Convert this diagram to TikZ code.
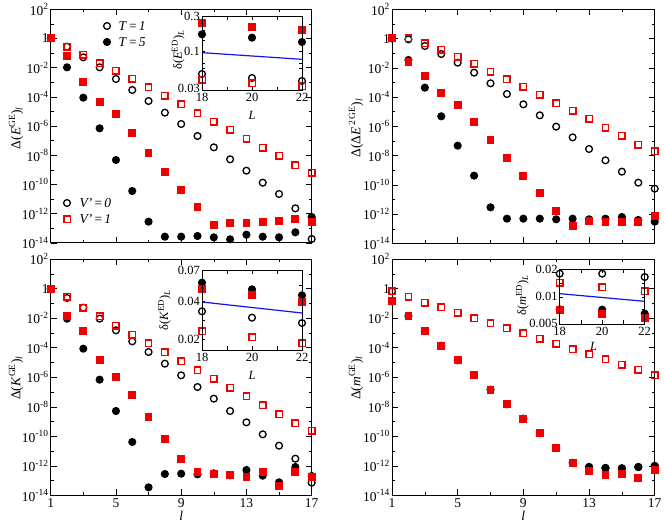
\documentclass[tikz,border=0pt]{standalone}
\usepackage{fontspec}
\setmainfont{Liberation Serif}
\definecolor{myred}{RGB}{240,0,0}
\definecolor{myblue}{RGB}{20,20,230}
\tikzset{
 oc/.style={draw=black,line width=1.3pt,circle,inner sep=0pt,minimum size=6.8pt},
 fc/.style={fill=black,circle,inner sep=0pt,minimum size=8.2pt},
 os/.style={draw=myred,line width=1.4pt,rectangle,inner sep=0pt,minimum size=6.4pt},
 fs/.style={fill=myred,rectangle,inner sep=0pt,minimum size=7.8pt},
 frm/.style={line width=0.9pt},
 tk/.style={line width=0.6pt},
 tl/.style={font=\fontsize{13.5}{13.5}\selectfont},
 il/.style={font=\fontsize{12.5}{12.5}\selectfont},
}
\newcommand\OC[1]{\foreach \a/\b in {#1} \path (\a,\b) node[oc]{};}
\newcommand\FC[1]{\foreach \a/\b in {#1} \path (\a,\b) node[fc]{};}
\newcommand\OS[1]{\foreach \a/\b in {#1} \path (\a,\b) node[os]{};}
\newcommand\FS[1]{\foreach \a/\b in {#1} \path (\a,\b) node[fs]{};}
\newcommand\mainaxes[3]{%
 \pgfmathsetmacro\yb{#1+16*#2}
 \foreach \e in {2,1,...,-14}{%
  \pgfmathsetmacro\yy{#1+(2-\e)*#2}
  \pgfmathsetmacro\tlen{mod(abs(\e),2)==0?6:3}
  \draw[tk] (1,\yy) -- ++(\tlen pt,0);
  \draw[tk] (17,\yy) -- ++(-\tlen pt,0);}
 \foreach \e in {2,0,...,-14}{%
  \pgfmathsetmacro\yy{#1+(2-\e)*#2}
  \node[tl,anchor=east,inner sep=2pt] at (1,\yy) {\ifnum\e=0 1\else 10\textsuperscript{\e}\fi};}
 \foreach \x/\tlen in {3/3,5/6,7/3,9/6,11/3,13/6,15/3}{%
  \draw[tk] (\x,\yb) -- ++(0,\tlen pt);
  \draw[tk] (\x,#1) -- ++(0,-\tlen pt);}
 \ifnum#3=1
  \foreach \x in {1,5,9,13,17} \node[tl,anchor=north,inner sep=3pt] at (\x,\yb) {\x};
  \node[tl,anchor=north] at (9,\yb+36) {\textit{l}};
 \fi
 \draw[frm] (1,#1) rectangle (17,\yb);
}
\begin{document}
\begin{tikzpicture}[x=1pt,y=1pt]
\useasboundingbox[fill=white] (0,0) rectangle (664,-524);
% ---------- TL
\begin{scope}[shift={(34.39pt,0pt)},x=16.31pt,y=-0.33333pt]
\mainaxes{28}{43.8}{0}
\OC{2/140,3/172,4/202,5/237,6/270,7/303,8/338,9/372,10/408,11/442,12/478,13/512,14/548,15/582,16/625,17/717}
\FC{1/115,2/202,3/293,4/385,5/480,6/573,7/665,8/710,9/710,10/708,11/712,12/718,13/704,14/710,15/712,16/697,17/651}
\OS{1/115,2/140,3/165,4/190,5/213,6/237,7/262,8/288,9/313,10/340,11/365,12/390,13/417,14/443,15/468,16/496,17/518}
\FS{1/115,2/167,3/245,4/305,5/343,6/400,7/458,8/515,9/570,10/622,11/675,12/668,13/668,14/665,15/663,16/658,17/665}
\end{scope}
\node[tl,rotate=90] (yl1) at (16,-128) {Δ(\textit{E}\textsuperscript{GE})\textsubscript{\textit{l}}};
\node[oc] (lg1) at (107,-26) {}; \node[tl,anchor=west] at (115,-26) {\textit{T}\,=\,\textit{1}};
\node[fc] (lg2) at (107,-42) {}; \node[tl,anchor=west] at (115,-42) {\textit{T}\,=\,\textit{5}};
\node[oc] (lg3) at (67,-203) {}; \node[tl,anchor=west] at (76,-203) {\textit{V'}\,=\,\textit{0}};
\node[os] (lg4) at (67,-219) {}; \node[tl,anchor=west] at (76,-219) {\textit{V'}\,=\,\textit{1}};
% inset TL
\begin{scope}[shift={(-248pt,0pt)},x=25pt,y=-0.33333pt]
\fill[white] (18,48) rectangle (22,272);
\foreach \x in {19,20,21}{\draw[tk] (\x,272) -- ++(0,4pt); \draw[tk] (\x,48) -- ++(0,-4pt);}
\foreach \yy in {155,90,121,206,189}{\draw[tk] (18,\yy) -- ++(3pt,0); \draw[tk] (22,\yy) -- ++(-3pt,0);}
\draw[myblue,line width=1.2pt] (18,158) -- (22,178);
\FC{18/103,20/113,22/126}\OC{18/222,20/234,22/243}
\FS{18/70,20/82,22/90}\OS{18/240,20/250,22/259}
\draw[frm] (18,48) rectangle (22,272);
\foreach \v/\yy in {0.3/48,0.1/155,0.03/266} \node[il,anchor=east,inner sep=2pt] at (18,\yy) {\v};
\foreach \x in {18,20,22} \node[il,anchor=north,inner sep=2pt] at (\x,274) {\x};
\node[il] at (20,345) {\textit{L}};
\node[il,rotate=90] at (17.05,150) {δ(\textit{E}\textsuperscript{ED})\textsubscript{\textit{L}}};
\end{scope}
% ---------- TR
\begin{scope}[shift={(375.58pt,0pt)},x=16.42pt,y=-0.33333pt]
\mainaxes{28}{43.9}{0}
\OC{1/115,2/118,3/138,4/162,5/188,6/218,7/250,8/282,9/313,10/346,11/380,12/412,13/447,14/481,15/515,16/548,17/566}
\FC{1/115,2/180,3/263,4/349,5/437,6/527,7/622,8/656,9/656,10/656,11/658,12/656,13/658,14/656,15/651,16/660,17/665}
\OS{1/115,2/115,3/130,4/150,5/170,6/192,7/215,8/238,9/261,10/285,11/310,12/333,13/357,14/383,15/408,16/434,17/454}
\FS{1/115,2/187,3/229,4/280,5/314,6/367,7/420,8/474,9/527,10/580,11/632,12/678,13/662,14/667,15/667,16/666,17/648}
\end{scope}
\node[tl,rotate=90] (yl2) at (356,-128) {Δ(Δ\textit{E}\textsuperscript{\,2\,GE})\textsubscript{\textit{l}}};
% ---------- BL
\begin{scope}[shift={(34.39pt,-262pt)},x=16.31pt,y=-0.33333pt]
\mainaxes{-8.6}{44.3}{1}
\OC{2/108,3/137,4/170,5/205,6/238,7/270,8/305,9/340,10/375,11/410,12/447,13/481,14/517,15/551,16/590,17/662}
\FC{1/80,2/170,3/260,4/353,5/447,6/540,7/676,8/636,9/635,10/637,11/634,12/640,13/624,14/641,15/661,16/615,17/642}
\OS{1/80,2/104,3/137,4/163,5/191,6/218,7/244,8/270,9/297,10/324,11/350,12/377,13/403,14/430,15/456,16/484,17/506}
\FS{1/80,2/162,3/208,4/294,5/345,6/400,7/466,8/532,9/592,10/629,11/637,12/639,13/645,14/631,15/672,16/631,17/645}
\end{scope}
\node[tl,rotate=90] (yl3) at (16,-378) {Δ(\textit{K}\textsuperscript{GE})\textsubscript{\textit{l}}};
% inset BL
\begin{scope}[shift={(-248pt,-262pt)},x=25pt,y=-0.33333pt]
\fill[white] (18,24) rectangle (22,265);
\foreach \x in {19,20,21}{\draw[tk] (\x,265) -- ++(0,4pt); \draw[tk] (\x,24) -- ++(0,-4pt);}
\foreach \yy in {118,233,70,175}{\draw[tk] (18,\yy) -- ++(3pt,0); \draw[tk] (22,\yy) -- ++(-3pt,0);}
\draw[myblue,line width=1.2pt] (18,120) -- (22,153);
\FC{18/62,20/82,22/100}\OC{18/148,20/167,22/183}
\FS{18/82,20/100,22/120}\OS{18/208,20/226,22/243}
\draw[frm] (18,24) rectangle (22,265);
\foreach \v/\yy in {0.07/24,0.04/118,0.02/233} \node[il,anchor=east,inner sep=2pt] at (18,\yy) {\v};
\foreach \x in {18,20,22} \node[il,anchor=north,inner sep=2pt] at (\x,267) {\x};
\node[il] at (20,340) {\textit{L}};
\node[il,rotate=90] at (16.5,145) {δ(\textit{K}\textsuperscript{ED})\textsubscript{\textit{L}}};
\end{scope}
% ---------- BR
\begin{scope}[shift={(375.58pt,-262pt)},x=16.42pt,y=-0.33333pt]
\mainaxes{-8.6}{44.3}{1}
\OC{1/88,13/615,14/618,15/619,16/615,17/612}
\FC{1/118,2/162,3/207,4/251,5/295,6/339,7/383,8/427,9/470,10/514,11/558,12/602,13/615,14/618,15/619,16/615,17/612}
\OS{1/88,2/104,3/122,4/136,5/152,6/168,7/183,8/199,9/214,10/230,11/245,12/262,13/276,14/292,15/308,16/323,17/340}
\FS{1/118,2/162,3/207,4/251,5/295,6/339,7/383,8/427,9/470,10/514,11/558,12/602,13/628,14/638,15/636,16/648,17/625}
\end{scope}
\node[tl,rotate=90] (yl4) at (356,-378) {Δ(\textit{m}\textsuperscript{GE})\textsubscript{\textit{l}}};
% inset BR
\begin{scope}[shift={(177.2pt,-262pt)},x=21.25pt,y=-0.33333pt]
\fill[white] (18,22) rectangle (22,187);
\foreach \x in {19,20,21}{\draw[tk] (\x,187) -- ++(0,4pt); \draw[tk] (\x,22) -- ++(0,-4pt);}
\foreach \yy in {104.5,63,143}{\draw[tk] (18,\yy) -- ++(3pt,0); \draw[tk] (22,\yy) -- ++(-3pt,0);}
\draw[myblue,line width=1.2pt] (18,95) -- (22,118);
\OC{18/35,20/35,22/45}\FC{18/142,20/143,22/155}
\OS{18/62,20/75,22/88}\FS{18/143,20/155,22/168}
\draw[frm] (18,22) rectangle (22,187);
\foreach \v/\yy in {0.02/22,0.01/104.5,0.005/183} \node[il,anchor=east,inner sep=2pt] at (18,\yy) {\v};
\foreach \x in {18,20,22} \node[il,anchor=north,inner sep=2pt] at (\x,190) {\x};
\node[il] at (19.6,254) {\textit{L}};
\node[il,rotate=90] at (16.25,100) {δ(\textit{m}\textsuperscript{ED})\textsubscript{\textit{L}}};
\end{scope}
\end{tikzpicture}
\end{document}
